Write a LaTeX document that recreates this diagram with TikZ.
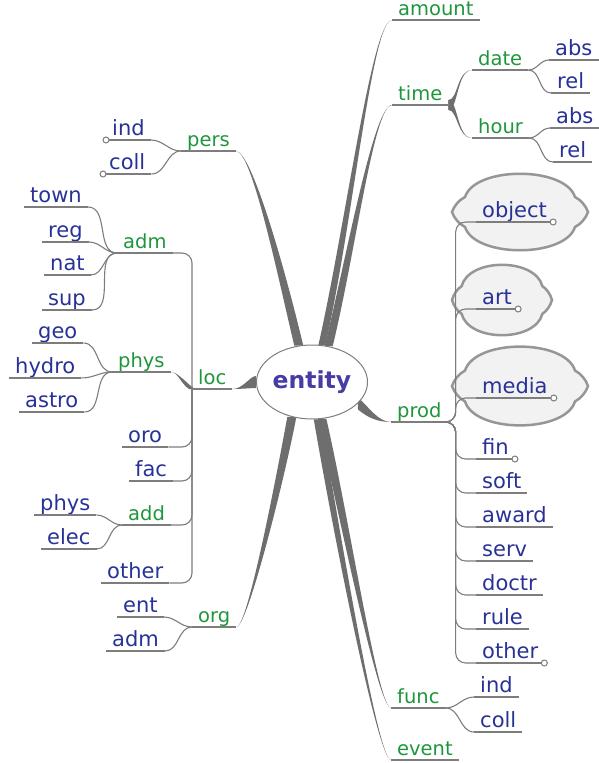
\documentclass[tikz,border=0pt]{standalone}
\usepackage{fontspec}
\setmainfont{DejaVu Sans}
\usetikzlibrary{shapes.geometric, backgrounds}

\definecolor{leafblue}{RGB}{40,50,150}
\definecolor{topicgreen}{RGB}{30,150,60}
\definecolor{twiggray}{RGB}{125,125,125}
\definecolor{limbgray}{RGB}{110,110,110}
\definecolor{bubblefill}{RGB}{242,242,242}
\definecolor{bubbleline}{RGB}{150,150,150}
\definecolor{entityblue}{RGB}{70,60,165}

% tapered branch: wide end, control near wide end, control near thin end, thin end, half width (dx,dy)
\newcommand{\limb}[6]{%
  \fill[limbfill] ([shift={(#5,#6)}]#1) .. controls ([shift={(#5,#6)}]#2) and (#3) .. (#4)
    .. controls (#3) and ([shift={(-#5,-#6)}]#2) .. ([shift={(-#5,-#6)}]#1) -- cycle;}
% cloud behind a collapsed leaf: centre, xscale, yscale
\newcommand{\bun}[3]{%
  \filldraw[bubble, shift={(#1)}, xscale=#2, yscale=#3]
    (-68,0) .. controls (-66,-6) and (-61,-12) .. (-55,-15)
    .. controls (-45,-46) and (45,-46) .. (55,-15)
    .. controls (61,-12) and (66,-6) .. (68,0)
    .. controls (66,6) and (61,12) .. (55,15)
    .. controls (45,46) and (-45,46) .. (-55,15)
    .. controls (-61,12) and (-66,6) .. (-68,0) -- cycle;}

\begin{document}
\begin{tikzpicture}[
    x=1pt, y=-1pt,
    leaf/.style={anchor=south west, inner xsep=6pt, inner ysep=4pt, text depth=0pt, text=leafblue, font=\fontsize{21}{25}\selectfont},
    topic/.style={leaf, text=topicgreen, font=\fontsize{19.5}{23}\selectfont},
    hub/.style={ellipse, draw=twiggray, line width=1pt, fill=white, minimum width=100pt, minimum height=74pt, inner sep=0pt, text=entityblue, font=\fontsize{23.5}{28}\selectfont\bfseries},
    twig/.style={draw=twiggray, line width=1.1pt},
    limbfill/.style={fill=limbgray},
    bubble/.style={fill=bubblefill, draw=bubbleline, line width=2.5pt},
    knob/.style={draw=twiggray, fill=white, line width=1pt}
]
\useasboundingbox (0,0) rectangle (599,763);

% Centre
\node[hub] (entity) at (312,382) {entity};

% Upper right: amount, time
\node[topic] (amount) at (392,20) {amount};
\node[topic] (time) at (392,105) {time};
\node[topic] (date) at (472,70) {date};
\node[topic] (hour) at (472,138) {hour};
\node[leaf] (dateabs) at (549,60) {abs};
\node[leaf] (daterel) at (551,93) {rel};
\node[leaf] (hourabs) at (550,128) {abs};
\node[leaf] (hourrel) at (553,162) {rel};

% Right: prod
\node[topic] (prod) at (391,422) {prod};
\node[leaf] (object) at (476,222) {object};
\node[leaf] (art) at (476,309) {art};
\node[leaf] (media) at (476,398) {media};
\foreach \n/\t [count=\i from 0] in {fin/fin,soft/soft,award/award,serv/serv,doctr/doctr,rule/rule,prodother/other}
  \node[leaf] (\n) at (476,459+34*\i) {\t};

% Lower right: func, event
\node[topic] (func) at (391,708) {func};
\node[leaf] (funcind) at (474,697) {ind};
\node[leaf] (funccoll) at (474,732) {coll};
\node[topic] (event) at (391,760) {event};

% Upper left: pers
\node[topic] (pers) at (181,151) {pers};
\node[leaf] (persind) at (106,140) {ind};
\node[leaf] (perscoll) at (103,174) {coll};

% Left: loc
\node[topic] (loc) at (192,389) {loc};
\node[topic] (locadm) at (117,253) {adm};
\node[leaf] (town) at (24,207) {town};
\node[leaf] (reg) at (42,242) {reg};
\node[leaf] (nat) at (44,275) {nat};
\node[leaf] (sup) at (42,310) {sup};
\node[topic] (locphys) at (112,372) {phys};
\node[leaf] (geo) at (32,343) {geo};
\node[leaf] (hydro) at (9,378) {hydro};
\node[leaf] (astro) at (19,412) {astro};
\node[leaf] (oro) at (122,447) {oro};
\node[leaf] (fac) at (129,481) {fac};
\node[topic] (add) at (122,525) {add};
\node[leaf] (addphys) at (34,515) {phys};
\node[leaf] (elec) at (41,549) {elec};
\node[leaf] (locother) at (101,583) {other};

% Lower left: org
\node[topic] (org) at (192,627) {org};
\node[leaf] (orgent) at (117,617) {ent};
\node[leaf] (orgadm) at (106,651) {adm};

% Underlines
\foreach \n in {amount,time,date,hour,dateabs,daterel,hourabs,hourrel,prod,object,art,media,fin,soft,award,serv,doctr,rule,prodother,func,funcind,funccoll,event,pers,persind,perscoll,loc,locadm,town,reg,nat,sup,locphys,geo,hydro,astro,oro,fac,add,addphys,elec,locother,org,orgent,orgadm}
  \draw[twig] (\n.south west) -- (\n.south east);

% Thin connectors
\foreach \n in {persind,perscoll} \draw[twig] (\n.south east) to[out=0,in=180] (pers.south west);
\foreach \n in {town,reg,nat,sup} \draw[twig] (\n.south east) to[out=0,in=180] (locadm.south west);
\foreach \n in {geo,hydro,astro} \draw[twig] (\n.south east) to[out=0,in=180] (locphys.south west);
\foreach \n in {addphys,elec} \draw[twig] (\n.south east) to[out=0,in=180] (add.south west);
\foreach \n in {orgent,orgadm} \draw[twig] (\n.south east) to[out=0,in=180] (org.south west);
\foreach \n in {locadm,oro,fac,add,locother} \draw[twig, rounded corners=10pt] (\n.south east) -| (loc.south west);
\foreach \n in {dateabs,daterel} \draw[twig] (date.south east) to[out=0,in=180] (\n.south west);
\foreach \n in {hourabs,hourrel} \draw[twig] (hour.south east) to[out=0,in=180] (\n.south west);
\foreach \n in {funcind,funccoll} \draw[twig] (func.south east) to[out=0,in=180] (\n.south west);
\foreach \n in {object,art,media,fin,soft,award,serv,doctr,rule,prodother}
  \draw[twig, rounded corners=10pt] (prod.south east) -- ++(8,0) |- (\n.south west);

% Collapsed markers
\foreach \n in {persind,perscoll} \draw[knob] (\n.south west) circle (3pt);
\foreach \n in {object,art,media,fin,prodother} \draw[knob] (\n.south east) circle (3pt);

% Clouds and thick branches
\begin{scope}[on background layer]
\bun{520,212}{1}{1}
\bun{502,300}{0.735}{0.92}
\bun{520,386}{1}{1.03}
\limb{entity.110}{282,275}{252,151}{pers.south east}{4.5}{0}
\limb{entity.75}{350,220}{372,20}{amount.south west}{3.5}{0}
\limb{entity.65}{352,250}{374,105}{time.south west}{4}{0}
\limb{entity.-25}{368,412}{378,422}{prod.south west}{0}{6}
\limb{entity.180}{250,382}{243,389}{loc.south east}{0}{6}
\limb{entity.240}{282,470}{248,627}{org.south east}{4.5}{0}
\limb{entity.-75}{345,520}{378,708}{func.south west}{4.5}{0}
\limb{entity.-82}{338,540}{378,760}{event.south west}{3.5}{0}
\limb{time.south east}{458,105}{457,70}{date.south west}{0}{5}
\limb{time.south east}{458,105}{457,138}{hour.south west}{0}{5}
\limb{loc.south west}{184,384}{178,372}{locphys.south east}{3}{0}
\end{scope}

\end{tikzpicture}
\end{document}
